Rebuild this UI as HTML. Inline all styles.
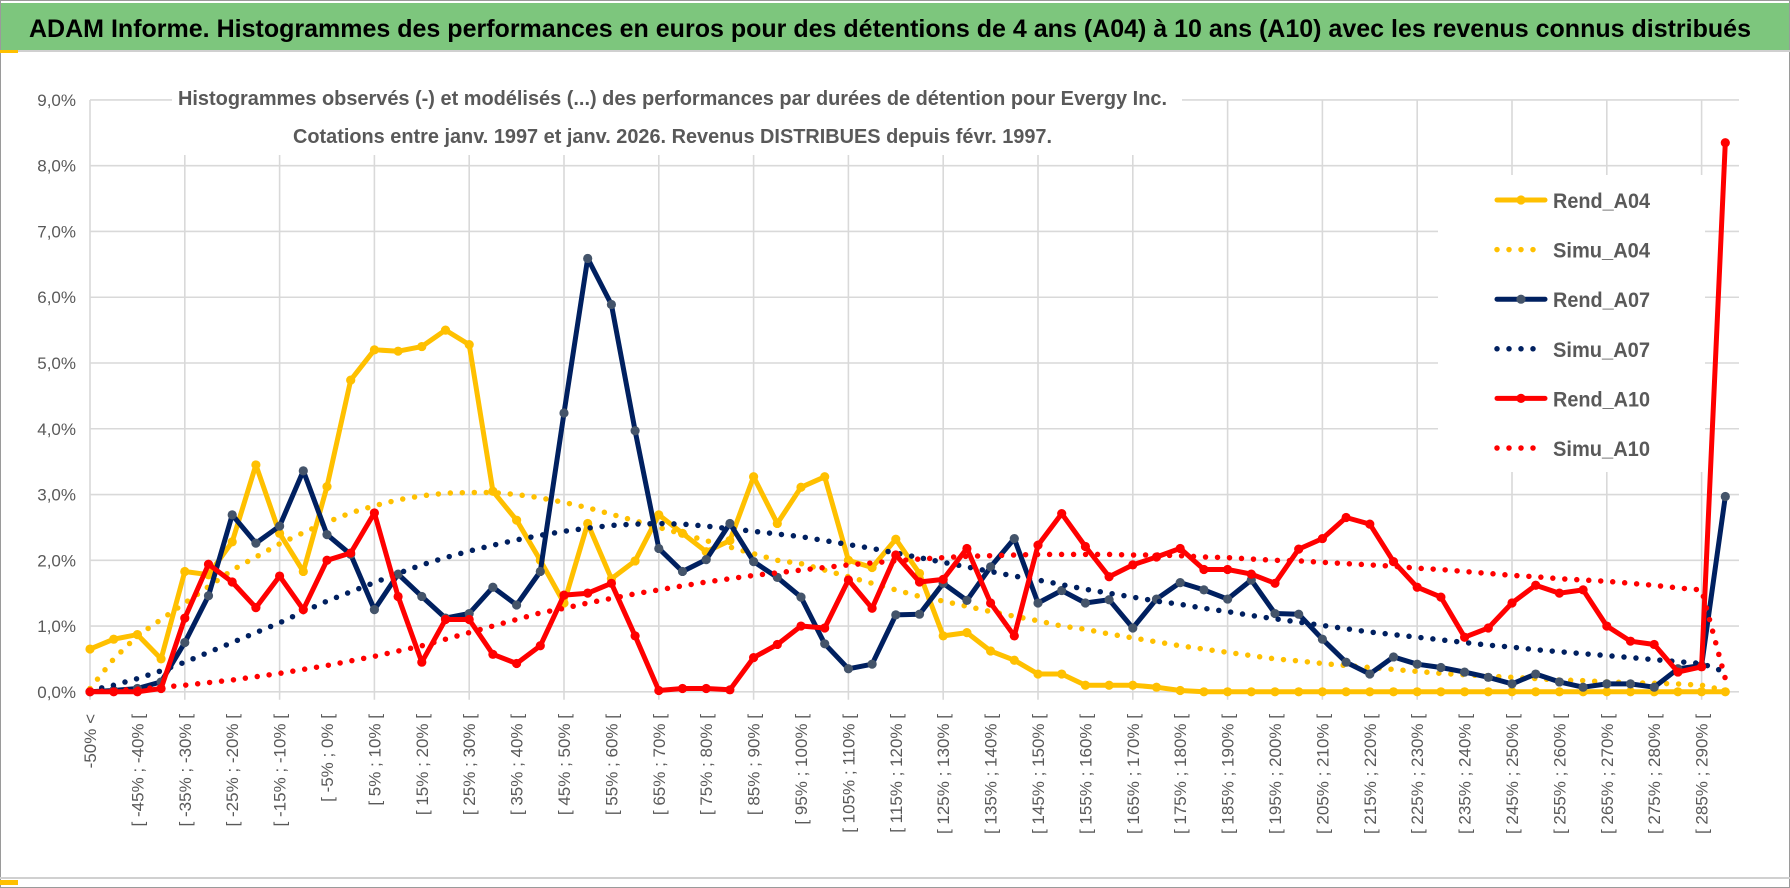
<!DOCTYPE html>
<html><head><meta charset="utf-8"><style>
html,body{margin:0;padding:0;background:#fff;}
svg{display:block;font-family:"Liberation Sans",Arial,sans-serif;}
</style></head><body>
<svg id="chart" width="1790" height="888" viewBox="0 0 1790 888" xmlns="http://www.w3.org/2000/svg">
<rect x="0.5" y="0.5" width="1789" height="887" fill="#fff" stroke="#9a9a9a"/>
<rect x="1" y="3" width="1788" height="47" fill="#7dc67d"/>
<line x1="0" y1="51" x2="1790" y2="51" stroke="#d0d0d0" stroke-width="2"/>
<rect x="0" y="50" width="18" height="3" fill="#ffc000"/>
<line x1="0" y1="878" x2="1790" y2="878" stroke="#d0d0d0" stroke-width="2"/>
<rect x="0" y="880" width="18" height="5" fill="#ffc000"/>
<text x="29" y="37" font-size="25" font-weight="bold" fill="#000" textLength="1722" lengthAdjust="spacingAndGlyphs">ADAM Informe. Histogrammes des performances en euros pour des détentions de 4 ans (A04) à 10 ans (A10) avec les revenus connus distribués</text>
<g id="grid"></g>
<rect x="172" y="78" width="1010" height="77" fill="#fff"/>
<text x="178" y="105" font-size="20" font-weight="bold" fill="#595959" textLength="989" lengthAdjust="spacingAndGlyphs">Histogrammes observés (-) et modélisés (...) des performances par durées de détention pour Evergy Inc.</text>
<text x="293" y="143" font-size="20" font-weight="bold" fill="#595959" textLength="759" lengthAdjust="spacingAndGlyphs">Cotations entre janv. 1997 et janv. 2026. Revenus DISTRIBUES depuis févr. 1997.</text>
<g id="yaxis"></g>
<g id="xaxis"></g>
<g id="legend"></g>
<g id="series"></g>
</svg>
<script>
const rendA04 = [0.65,0.8,0.87,0.5,1.83,1.78,2.28,3.45,2.41,1.83,3.12,4.74,5.2,5.18,5.25,5.5,5.28,3.05,2.61,2.0,1.35,2.56,1.72,1.99,2.69,2.41,2.13,2.3,3.27,2.56,3.11,3.27,2.0,1.89,2.32,1.8,0.85,0.9,0.62,0.48,0.27,0.27,0.1,0.1,0.1,0.07,0.02,0,0,0,0,0,0,0,0,0,0,0,0,0,0,0,0,0,0,0,0,0,0,0];
const simuA04 = [0.05,0.5,0.85,1.1,1.35,1.6,1.85,2.05,2.25,2.42,2.58,2.72,2.83,2.92,2.98,3.02,3.03,3.03,3.0,2.95,2.88,2.8,2.7,2.6,2.5,2.4,2.3,2.2,2.1,2.0,1.95,1.85,1.75,1.65,1.55,1.45,1.38,1.3,1.22,1.15,1.08,1.0,0.95,0.88,0.82,0.76,0.7,0.65,0.6,0.55,0.5,0.47,0.43,0.4,0.37,0.34,0.31,0.28,0.26,0.24,0.22,0.2,0.18,0.17,0.15,0.14,0.13,0.12,0.1,0.02];
const rendA07 = [0,0.02,0.05,0.15,0.75,1.46,2.69,2.26,2.52,3.36,2.39,2.09,1.25,1.79,1.45,1.12,1.19,1.59,1.32,1.83,4.24,6.59,5.89,3.97,2.18,1.83,2.01,2.56,1.98,1.74,1.44,0.73,0.35,0.42,1.17,1.18,1.65,1.39,1.9,2.33,1.35,1.54,1.35,1.4,0.97,1.41,1.66,1.55,1.41,1.70,1.19,1.18,0.8,0.45,0.27,0.53,0.42,0.37,0.3,0.22,0.12,0.27,0.15,0.07,0.12,0.12,0.07,0.35,0.4,2.97];
const simuA07 = [0.02,0.1,0.2,0.32,0.45,0.6,0.75,0.9,1.05,1.22,1.38,1.52,1.66,1.8,1.93,2.04,2.14,2.23,2.31,2.38,2.44,2.49,2.53,2.55,2.56,2.55,2.52,2.48,2.44,2.4,2.36,2.3,2.24,2.18,2.11,2.04,1.97,1.9,1.83,1.76,1.7,1.63,1.56,1.5,1.44,1.38,1.33,1.27,1.22,1.16,1.11,1.06,1.01,0.96,0.91,0.87,0.83,0.79,0.75,0.71,0.68,0.64,0.61,0.58,0.55,0.52,0.49,0.46,0.43,0.3];
const rendA10 = [0,0,0,0.05,1.12,1.94,1.67,1.28,1.76,1.25,2.0,2.11,2.72,1.45,0.45,1.1,1.1,0.57,0.43,0.7,1.47,1.5,1.65,0.85,0.02,0.05,0.05,0.03,0.52,0.72,1.0,0.97,1.70,1.27,2.08,1.67,1.71,2.18,1.35,0.85,2.23,2.71,2.21,1.75,1.93,2.05,2.18,1.86,1.86,1.79,1.65,2.17,2.33,2.65,2.55,1.98,1.59,1.44,0.83,0.97,1.35,1.62,1.5,1.55,1.0,0.77,0.72,0.3,0.38,8.35];
const simuA10 = [0.0,0.02,0.04,0.07,0.1,0.14,0.18,0.23,0.28,0.34,0.4,0.47,0.54,0.62,0.7,0.8,0.9,1.0,1.1,1.2,1.27,1.35,1.42,1.49,1.55,1.61,1.67,1.72,1.77,1.81,1.85,1.89,1.93,1.96,1.99,2.02,2.04,2.06,2.07,2.08,2.09,2.09,2.09,2.09,2.08,2.08,2.07,2.05,2.04,2.02,2.0,1.99,1.97,1.95,1.93,1.91,1.88,1.86,1.83,1.8,1.77,1.75,1.72,1.7,1.68,1.65,1.62,1.58,1.55,0.2];
const yTicks = [0,1,2,3,4,5,6,7,8,9];
const yTickLabels = ["0,0%","1,0%","2,0%","3,0%","4,0%","5,0%","6,0%","7,0%","8,0%","9,0%"];
const categories = ["-50% <"];
for (let k = 1; k < 70; k++) { const lo = -50 + 5*(k-1); categories.push("[ " + lo + "% ; " + (lo+5) + "% ["); }

const NS = "http://www.w3.org/2000/svg";
const X0 = 90, DX = 23.7, Y0 = 691.8, DY = 65.76;
function xs(i){ return X0 + DX*i; }
function ys(v){ return Y0 - DY*v; }
function mk(tag, attrs, parent){ const e = document.createElementNS(NS, tag); for (const k in attrs) e.setAttribute(k, attrs[k]); parent.appendChild(e); return e; }

const grid = document.getElementById('grid');
const xRight = xs(categories.length) - 10;
yTicks.forEach(function(t){
  const l = mk('line', {x1:X0, x2:xRight, y1:ys(t), y2:ys(t), stroke:'#d9d9d9', 'stroke-width':1.6}, grid);
  
  
});
for (let i = 0; i < categories.length; i += 4) {
  const l = mk('line', {x1:xs(i), x2:xs(i), y1:ys(9), y2:ys(0)+8, stroke:'#d9d9d9', 'stroke-width':1.6}, grid);
  
  
}

const yaxis = document.getElementById('yaxis');
yTicks.forEach(function(t, k){
  const tx = mk('text', {x:76, y:ys(t)+6, 'text-anchor':'end', 'font-size':17, fill:'#595959'}, yaxis);
  tx.textContent = yTickLabels[k];
  
  
});

const xaxis = document.getElementById('xaxis');
categories.forEach(function(c, i){
  if (i % 2 !== 0) return;
  const x = xs(i) + 6, y = 714;
  const tx = mk('text', {x:x, y:y, 'text-anchor':'end', 'font-size':17, fill:'#595959', transform:'rotate(-90 '+x+' '+y+')'}, xaxis);
  tx.textContent = c;
  
  
});

const series = document.getElementById('series');
function pathD(arr){ return arr.map(function(v,i){ return (i?'L':'M') + xs(i).toFixed(1) + ' ' + ys(v).toFixed(1); }).join(' '); }
function drawSolid(arr, color, mcolor, name){
  const g = mk('g', {}, series);
  
  
  const p = mk('path', {d:pathD(arr), fill:'none', stroke:color, 'stroke-width':5, 'stroke-linejoin':'round', 'stroke-linecap':'round'}, g);
  
  
  arr.forEach(function(v,i){
    const c = mk('circle', {cx:xs(i), cy:ys(v), r:4.6, fill:mcolor}, g);
    
    
  });
}
function drawDotted(arr, color, name){
  const p = mk('path', {d:pathD(arr), fill:'none', stroke:color, 'stroke-width':5.5, 'stroke-linecap':'round', 'stroke-dasharray':'0 12'}, series);
  
  
}
drawSolid(rendA04, '#ffc000', '#ffc000', 'rend-a04');
drawDotted(simuA04, '#ffc000', 'simu-a04');
drawSolid(rendA07, '#002060', '#44546a', 'rend-a07');
drawDotted(simuA07, '#002060', 'simu-a07');
drawSolid(rendA10, '#ff0000', '#ff0000', 'rend-a10');
drawDotted(simuA10, '#ff0000', 'simu-a10');

const legend = document.getElementById('legend');
const lbg = mk('rect', {x:1438, y:175, width:267, height:297, fill:'#fff'}, legend);


const legendNames = ["Rend_A04","Simu_A04","Rend_A07","Simu_A07","Rend_A10","Simu_A10"];
const legendColors = ['#ffc000','#ffc000','#002060','#002060','#ff0000','#ff0000'];
const legendMarkers = ['#ffc000',null,'#44546a',null,'#ff0000',null];
legendNames.forEach(function(n, k){
  const yb = 208 + 49.6*k, yl = yb - 8;
  const g = mk('g', {}, legend);
  
  
  if (legendMarkers[k]) {
    mk('line', {x1:1497, x2:1545, y1:yl, y2:yl, stroke:legendColors[k], 'stroke-width':5, 'stroke-linecap':'round'}, g);
    mk('circle', {cx:1521, cy:yl, r:4.6, fill:legendMarkers[k]}, g);
  } else {
    mk('line', {x1:1497, x2:1545, y1:yl, y2:yl, stroke:legendColors[k], 'stroke-width':5.5, 'stroke-linecap':'round', 'stroke-dasharray':'0 12'}, g);
  }
  const t = mk('text', {x:1553, y:yb, 'font-size':21, 'font-weight':'bold', fill:'#595959', textLength:97, lengthAdjust:'spacingAndGlyphs'}, g);
  t.textContent = n;
});
</script>
</body></html>
